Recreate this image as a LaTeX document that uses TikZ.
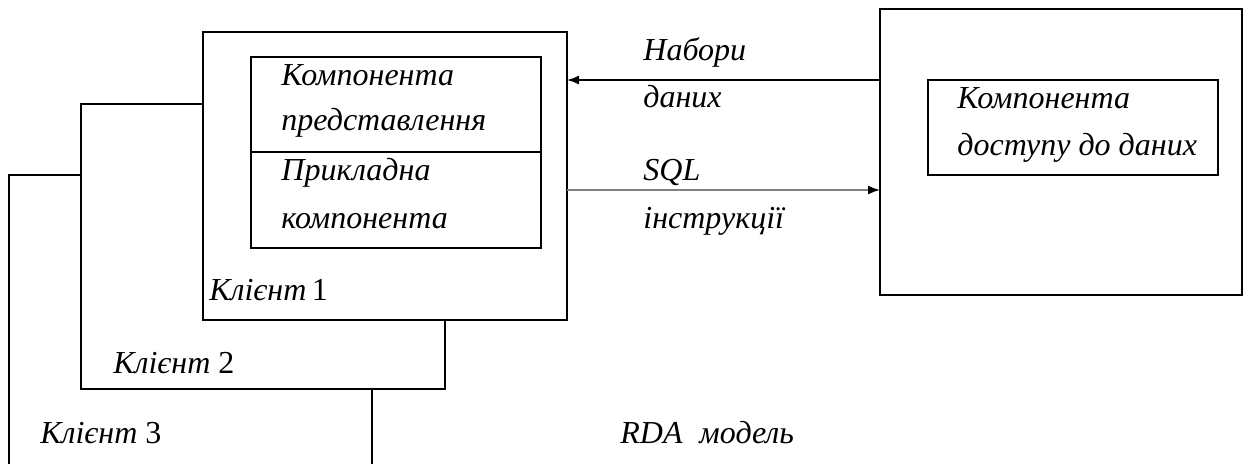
\documentclass[tikz,border=0pt]{standalone}
\usepackage{fontspec}
\setmainfont{Liberation Serif}
\usetikzlibrary{arrows.meta}

\tikzset{
  box/.style={draw, rectangle, fill=white, line width=0.8pt, inner sep=0pt,
    outer sep=0pt, anchor=north west},
  lbl/.style={anchor=base west, inner sep=0pt, font=\fontsize{16}{19}\selectfont\itshape},
  flow/.style={line width=0.8pt, -{Latex[length=6pt,width=4.5pt]}}
}

\begin{document}
\begin{tikzpicture}[x=0.5pt,y=-0.5pt]
    \clip (0,0) rectangle (1246,463);
    \fill[white] (0,0) rectangle (1246,463);

    % clients, back to front
    \node[box, minimum width=181.5pt, minimum height=147.5pt] (client3) at (9,175) {};
    \node[box, minimum width=182pt, minimum height=142.5pt] (client2) at (81,104) {};
    \node[box, minimum width=182pt, minimum height=144pt] (client1) at (203,32) {};
    \node[box, minimum width=145pt, minimum height=47.5pt] (comppres) at (251,57) {};
    \node[box, minimum width=145pt, minimum height=48pt] (compapp) at (251,152) {};

    % server side
    \node[box, minimum width=181pt, minimum height=143pt] (server) at (880,9) {};
    \node[box, minimum width=145pt, minimum height=47.5pt] (compdata) at (928,80) {};

    \node[lbl] (pres1) at (281,85) {Компонента};
    \node[lbl] (pres2) at (281,130) {представлення};
    \node[lbl] (app1) at (281,180) {Прикладна};
    \node[lbl] (app2) at (281,228) {компонента};
    \node[lbl] (cl1) at (209,300) {Клієнт\,{\upshape 1}};
    \node[lbl] (cl2) at (113,373) {Клієнт {\upshape 2}};
    \node[lbl] (cl3) at (40,443) {Клієнт {\upshape 3}};
    \node[lbl] (data1) at (957,108) {Компонента};
    \node[lbl] (data2) at (957,155) {доступу до даних};
    \node[lbl] (sets1) at (643,60) {Набори};
    \node[lbl] (sets2) at (643,107) {даних};
    \node[lbl] (sql1) at (643,180) {SQL};
    \node[lbl] (sql2) at (643,228) {інструкції};
    \node[lbl] (model) at (620,443) {RDA\; модель};

    \coordinate (sqlfrom) at (567,190);
    \coordinate (sqlto) at (880,190);

    \draw[flow] (compdata.north -| server.west) -- (compdata.north -| client1.east);
    \draw[flow, gray, arrows={-Latex[length=6pt,width=4.5pt,color=black]}] (sqlfrom) -- (sqlto);
\end{tikzpicture}
\end{document}
